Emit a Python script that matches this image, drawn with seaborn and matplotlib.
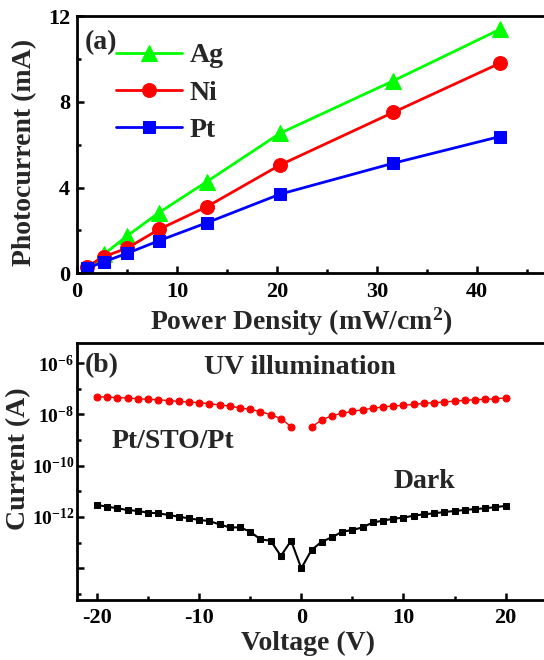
import numpy as np
import pandas as pd
import matplotlib
matplotlib.use("Agg")
import matplotlib.pyplot as plt
import matplotlib.ticker as mticker
import seaborn as sns

# ---------------- data: panel (a) ----------------
power_density = [1.0, 2.7, 5.0, 8.2, 13.0, 20.3, 31.6, 42.3]
ag_current = [0.15, 0.89, 1.74, 2.83, 4.28, 6.53, 8.97, 11.38]
ni_current = [0.31, 0.78, 1.17, 2.05, 3.11, 5.05, 7.50, 9.80]
pt_current = [0.23, 0.54, 0.93, 1.52, 2.36, 3.69, 5.13, 6.38]

# ---------------- data: panel (b) ----------------
voltage = list(range(-20, 21))
uv_neg_voltage = list(range(-20, 0))
uv_neg_current = [4.86e-8, 4.72e-8, 4.45e-8, 4.32e-8, 4.06e-8, 3.83e-8, 3.72e-8,
                  3.40e-8, 3.20e-8, 3.01e-8, 2.84e-8, 2.60e-8, 2.31e-8, 2.11e-8,
                  1.76e-8, 1.56e-8, 1.27e-8, 9.7e-9, 6.8e-9, 3.3e-9]
uv_pos_voltage = list(range(1, 21))
uv_pos_current = [3.2e-9, 6.0e-9, 8.9e-9, 1.09e-8, 1.31e-8, 1.51e-8, 1.71e-8,
                  1.93e-8, 2.11e-8, 2.23e-8, 2.44e-8, 2.67e-8, 2.84e-8, 3.01e-8,
                  3.30e-8, 3.50e-8, 3.72e-8, 3.83e-8, 4.06e-8, 4.32e-8]
dark_current = [2.91e-12, 2.51e-12, 2.16e-12, 1.86e-12, 1.70e-12, 1.46e-12, 1.38e-12,
                1.19e-12, 1.02e-12, 8.8e-13, 7.6e-13, 6.9e-13, 5.1e-13, 3.9e-13,
                3.9e-13, 2.65e-13, 1.33e-13, 1.18e-13, 3.0e-14, 1.18e-13, 9.9e-15,
                5.1e-14, 1.08e-13, 1.60e-13, 2.65e-13, 3.08e-13, 3.9e-13, 6.1e-13,
                7.1e-13, 8.5e-13, 9.3e-13, 1.12e-12, 1.26e-12, 1.38e-12, 1.55e-12,
                1.70e-12, 1.86e-12, 2.03e-12, 2.16e-12, 2.43e-12, 2.66e-12]

y_tick_exps = [-6, -8, -10, -12, -14]
y_tick_labels = [r"$10^{-6}$", r"$10^{-8}$", r"$10^{-10}$", r"$10^{-12}$", ""]

# ---------------- style ----------------
sns.set_theme(style="ticks")
plt.rcParams.update({
    "font.family": ["Liberation Serif", "DejaVu Serif"],
    "font.weight": "bold",
    "axes.labelweight": "bold",
    "axes.unicode_minus": False,
    "mathtext.fontset": "custom",
    "mathtext.rm": "Liberation Serif:bold",
    "mathtext.bf": "Liberation Serif:bold",
    "mathtext.it": "Liberation Serif:bold",
    "mathtext.default": "rm",
    "axes.linewidth": 2.0,
    "xtick.direction": "in",
    "ytick.direction": "in",
    "xtick.major.width": 1.8,
    "ytick.major.width": 1.8,
    "xtick.minor.width": 1.8,
    "ytick.minor.width": 1.8,
    "xtick.major.size": 5,
    "ytick.major.size": 5,
    "xtick.minor.size": 3,
    "ytick.minor.size": 3,
    "xtick.color": "black",
    "ytick.color": "black",
    "axes.edgecolor": "black",
})

W, H = 544, 660
fig = plt.figure(figsize=(W / 100, H / 100), dpi=100)

def frac_axes(l, t, r, b):
    return fig.add_axes([l / W, 1 - b / H, (r - l) / W, (b - t) / H])

def px_text(x, y, s, size=20):
    fig.text(x / W, 1 - y / H, s, fontsize=size, fontweight="bold",
             va="center", ha="left")

# ---------------- panel (a) ----------------
axa = frac_axes(77, 16, 549.5, 273.3)
dfa = pd.DataFrame({"P": power_density, "Ag": ag_current, "Ni": ni_current, "Pt": pt_current})
sns.lineplot(data=dfa, x="P", y="Ag", ax=axa, color="#00ff00", marker="^",
             markersize=12, markeredgecolor="#00ff00", linewidth=2, label="Ag")
sns.lineplot(data=dfa, x="P", y="Ni", ax=axa, color="#ff0000", marker="o",
             markersize=10, markeredgecolor="#ff0000", linewidth=2, label="Ni")
sns.lineplot(data=dfa, x="P", y="Pt", ax=axa, color="#0000ff", marker="s",
             markersize=9, markeredgecolor="#0000ff", linewidth=2, label="Pt")
axa.set_xlim(0, 47.25)
axa.set_ylim(0, 12)
axa.xaxis.set_major_locator(mticker.MultipleLocator(10))
axa.xaxis.set_minor_locator(mticker.MultipleLocator(5))
axa.yaxis.set_major_locator(mticker.MultipleLocator(4))
axa.yaxis.set_minor_locator(mticker.MultipleLocator(2))
axa.tick_params(axis="both", which="both", labelsize=16, pad=5)
axa.tick_params(axis="x", pad=6)
axa.set_xlabel("Power Density (mW/cm$^2$)", fontsize=20, fontweight="bold")
axa.set_ylabel("Photocurrent (mA)", fontsize=20, fontweight="bold")
axa.xaxis.set_label_coords(0.474, -0.19)
axa.xaxis.label.set_va("center")
axa.yaxis.set_label_coords(-0.11, 0.47)
axa.yaxis.label.set_va("center")
leg = axa.legend(loc="upper left", bbox_to_anchor=(0.082, 0.895), frameon=False,
                 fontsize=20, handlelength=2.4, handletextpad=0.25,
                 labelspacing=0.42, borderpad=0, borderaxespad=0)
for t in leg.get_texts():
    t.set_fontweight("bold")
px_text(85, 43, "(a)")

# ---------------- panel (b) ----------------
axb = frac_axes(77, 343, 549.5, 600)
df_neg = pd.DataFrame({"V": uv_neg_voltage, "I": uv_neg_current})
df_pos = pd.DataFrame({"V": uv_pos_voltage, "I": uv_pos_current})
df_dark = pd.DataFrame({"V": voltage, "I": dark_current})
for d in (df_neg, df_pos):
    sns.lineplot(data=d, x="V", y="I", ax=axb, color="#ff0000", marker="o",
                 markersize=5, markeredgecolor="#ff0000", linewidth=1.0)
sns.lineplot(data=df_dark, x="V", y="I", ax=axb, color="black", marker="s",
             markersize=4.5, markeredgecolor="black", linewidth=1.5)
axb.set_yscale("log")
axb.set_xlim(-21.96, 24.3)
axb.set_ylim(10 ** -15.24, 10 ** -5.22)
axb.xaxis.set_major_locator(mticker.MultipleLocator(10))
axb.xaxis.set_minor_locator(mticker.MultipleLocator(5))
axb.yaxis.set_major_locator(mticker.FixedLocator([10.0 ** e for e in y_tick_exps]))
axb.yaxis.set_major_formatter(mticker.FixedFormatter(y_tick_labels))
axb.yaxis.set_minor_locator(mticker.FixedLocator([10.0 ** e for e in range(-15, -5, 2)]))
axb.yaxis.set_minor_formatter(mticker.NullFormatter())
axb.tick_params(axis="x", which="both", labelsize=16, pad=6)
axb.tick_params(axis="y", which="both", labelsize=14, pad=2)
axb.set_xlabel("Voltage (V)", fontsize=20, fontweight="bold")
axb.set_ylabel("Current (A)", fontsize=20, fontweight="bold")
axb.xaxis.set_label_coords(0.489, -0.17)
axb.xaxis.label.set_va("center")
axb.yaxis.set_label_coords(-0.123, 0.549)
axb.yaxis.label.set_va("center")
if axb.get_legend() is not None:
    axb.get_legend().remove()

px_text(85, 366, "(b)")
px_text(204, 367, "UV illumination")
px_text(112, 442, "Pt/STO/Pt")
px_text(394, 482, "Dark")

for ax in (axa, axb):
    for lbl in ax.get_xticklabels() + ax.get_yticklabels():
        lbl.set_fontweight("bold")

fig.savefig("out.png", dpi=100)
